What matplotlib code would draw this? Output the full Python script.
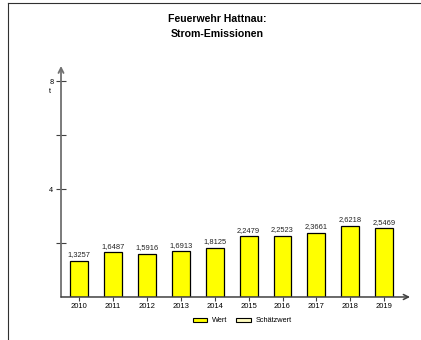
import matplotlib

matplotlib.use("Agg")
import matplotlib.pyplot as plt
from matplotlib.lines import Line2D
from matplotlib.patches import Patch

plt.rcParams["font.family"] = ["Liberation Sans", "DejaVu Sans"]

years = ["2010", "2011", "2012", "2013", "2014", "2015", "2016", "2017", "2018", "2019"]
values = [1.3257, 1.6487, 1.5916, 1.6913, 1.8125, 2.2479, 2.2523, 2.3661, 2.6218, 2.5469]
y_ticks = [0, 2, 4, 6, 8]
y_tick_labels = ["", "", "4", "", "8"]

BAR_COLOR = "#ffff00"
AXIS_COLOR = "#707070"

fig = plt.figure(figsize=(4.21, 3.40), dpi=100)
ax = fig.add_axes([0.1449, 0.1265, 0.974 - 0.1449, 0.806 - 0.1265])

x = range(len(years))
ax.bar(x, values, width=0.53, color=BAR_COLOR, edgecolor="black", linewidth=0.9)
for xi, v in zip(x, values):
    ax.text(xi, v + 0.1, f"{v:.4f}".replace(".", ","), ha="center", va="bottom",
            fontsize=5.4, color="#222222")

ax.set_xlim(-0.53, 9.76)
ax.set_ylim(0, 8.56)
for s in ax.spines.values():
    s.set_visible(False)

# axes drawn as arrows
ax.annotate("", xy=(0, 1), xytext=(0, 0), xycoords="axes fraction",
            arrowprops=dict(arrowstyle="->", color=AXIS_COLOR, lw=1.3,
                            shrinkA=0, shrinkB=0, mutation_scale=9))
ax.annotate("", xy=(1, 0), xytext=(0, 0), xycoords="axes fraction",
            arrowprops=dict(arrowstyle="->", color="#404040", lw=1.1,
                            shrinkA=0, shrinkB=0, mutation_scale=9))

ax.set_yticks(y_ticks[1:])
ax.set_yticklabels(y_tick_labels[1:])
ax.tick_params(axis="y", direction="inout", length=7, width=0.8, color="#404040",
               labelsize=5.3, pad=2)
ax.set_xticks(list(x))
ax.set_xticklabels(years)
ax.tick_params(axis="x", direction="out", length=3, width=0.8, color="#404040",
               labelsize=5.5, pad=1.5)
ax.text(-0.033, 8 - 0.4, "t", transform=ax.get_yaxis_transform(), ha="center",
        va="center", fontsize=5.3)

fig.text(0.516, 0.922, "Feuerwehr Hattnau:\nStrom-Emissionen", ha="center", va="center",
         fontsize=7.6, fontweight="bold", linespacing=1.55)

handles = [Patch(facecolor=BAR_COLOR, edgecolor="black", linewidth=0.8),
           Patch(facecolor="#fffcc0", edgecolor="black", linewidth=0.8)]
fig.legend(handles, ["Wert", "Schätzwert"], loc="center", bbox_to_anchor=(0.575, 0.056),
           ncol=2, frameon=False, fontsize=5.3, handlelength=2.0, handleheight=0.6,
           handletextpad=0.6, columnspacing=1.2)

# outer frame (top and left edges)
fig.add_artist(Line2D([8 / 421, 1.0], [1 - 3 / 340, 1 - 3 / 340], color="#303030", lw=0.8))
fig.add_artist(Line2D([8 / 421, 8 / 421], [0, 1 - 3 / 340], color="#303030", lw=0.8))

fig.savefig("out.png", dpi=100)
